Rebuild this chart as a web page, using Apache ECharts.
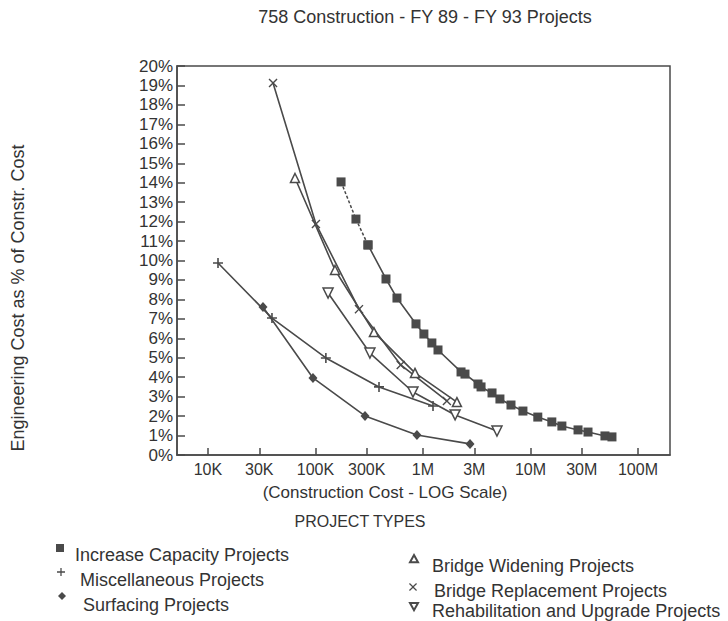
<!DOCTYPE html>
<html>
<head>
<meta charset="utf-8">
<script src="https://cdn.jsdelivr.net/npm/echarts@6/dist/echarts.min.js"></script>
<style>html,body{margin:0;padding:0;background:#fff}#c{width:728px;height:621px}</style>
</head>
<body>
<div id="c"></div>
<script>
// ---- Data (cost in $, engineering cost in %) ----
const xTickValues = [1e4, 3e4, 1e5, 3e5, 1e6, 3e6, 1e7, 3e7, 1e8];
const xTickLabels = ['10K', '30K', '100K', '300K', '1M', '3M', '10M', '30M', '100M'];

const capCost = [173e3, 238e3, 308e3, 453e3, 573e3, 861e3, 1.02e6, 1.21e6, 1.38e6, 2.26e6, 2.46e6, 3.25e6, 3.47e6, 4.39e6, 5.2e6, 6.59e6, 8.51e6, 11.7e6, 15.8e6, 19.6e6, 27.7e6, 34.3e6, 49.3e6, 57.3e6];
const capPct  = [14.04, 12.13, 10.80, 9.05, 8.07, 6.74, 6.22, 5.76, 5.40, 4.27, 4.16, 3.65, 3.50, 3.19, 2.88, 2.57, 2.26, 1.95, 1.70, 1.49, 1.29, 1.18, 0.98, 0.93];

const miscCost = [12.4e3, 39.4e3, 125e3, 390e3, 1.24e6];
const miscPct  = [9.87, 7.04, 4.99, 3.50, 2.52];

const surfCost = [32.5e3, 94.8e3, 289e3, 879e3, 2.74e6];
const surfPct  = [7.61, 3.96, 2.01, 1.03, 0.57];

const widCost = [64.5e3, 152e3, 350e3, 843e3, 2.07e6];
const widPct  = [14.24, 9.51, 6.32, 4.22, 2.72];

const repCost = [40.3e3, 101e3, 254e3, 621e3, 1.67e6];
const repPct  = [19.13, 11.88, 7.50, 4.63, 2.78];

const rehCost = [131e3, 321e3, 807e3, 1.99e6, 4.88e6];
const rehPct  = [8.33, 5.24, 3.24, 2.06, 1.23];

const names = ['Increase Capacity Projects', 'Miscellaneous Projects', 'Surfacing Projects',
               'Bridge Widening Projects', 'Bridge Replacement Projects', 'Rehabilitation and Upgrade Projects'];

// ---- Build ----
const L = v => Math.log10(v);
const pts = (xs, ys) => xs.map((x, i) => [L(x), ys[i]]);
const INK = '#4a4a4a';
const FONT = '"Liberation Sans", Arial, sans-serif';
const PLUS_P = 'M4.2,0h1.6v10h-1.6zM0,4.2h10v1.6h-10z';
const CROSS_P = 'M0,1.1L1.1,0L5,3.9L8.9,0L10,1.1L6.1,5L10,8.9L8.9,10L5,6.1L1.1,10L0,8.9L3.9,5Z';
const DOWN_P = 'M0,0L10,0L5,9Z';
const RECT_P = 'M0,0h10v10h-10z';
const DIAM_P = 'M5,0L10,5L5,10L0,5z';
const TRI_P = 'M5,0L10,9L0,9z';

const tickLog = xTickValues.map(L);
function labelFor(v) {
  let best = 0, d = 1e9;
  tickLog.forEach((t, i) => { if (Math.abs(t - v) < d) { d = Math.abs(t - v); best = i; } });
  return xTickLabels[best];
}

const base = {
  type: 'line', color: INK, lineStyle: { color: INK, width: 1.6 }, z: 3,
  emphasis: { disabled: true }, animation: false
};
const solid = { color: INK };
const hollow = { color: '#fff', borderColor: INK, borderWidth: 1.5 };

const capPts = pts(capCost, capPct);
const series = [
  Object.assign({}, base, { name: 'capDash', data: capPts.slice(0, 3), symbol: 'rect', symbolSize: 9,
    itemStyle: solid, lineStyle: { color: INK, width: 1.5, type: [3, 2] } }),
  Object.assign({}, base, { name: names[0], data: capPts.slice(2), symbol: 'rect', symbolSize: 9, itemStyle: solid }),
  Object.assign({}, base, { name: names[1], data: pts(miscCost, miscPct), symbol: 'path://' + PLUS_P, symbolSize: 10, itemStyle: solid }),
  Object.assign({}, base, { name: names[2], data: pts(surfCost, surfPct), symbol: 'diamond', symbolSize: [9, 10], itemStyle: solid }),
  Object.assign({}, base, { name: names[3], data: pts(widCost, widPct), symbol: 'triangle', symbolSize: 9, itemStyle: hollow }),
  Object.assign({}, base, { name: names[4], data: pts(repCost, repPct), symbol: 'path://' + CROSS_P, symbolSize: 9, itemStyle: solid }),
  Object.assign({}, base, { name: names[5], data: pts(rehCost, rehPct), symbol: 'path://' + DOWN_P, symbolSize: 10, itemStyle: hollow })
];

// legend icons: marker shape raised above the text line (as in the reference)
const iconShapes = [RECT_P, PLUS_P, DIAM_P, TRI_P, CROSS_P, DOWN_P];
const legendPos = [
  { left: 56, iconTop: 544, pad: 6, raise: 7 },
  { left: 57, iconTop: 568, pad: 10, raise: 8 },
  { left: 58, iconTop: 592, pad: 12, raise: 9 },
  { left: 409, iconTop: 554, pad: 9, raise: 7 },
  { left: 409, iconTop: 584, pad: 12, raise: 4 },
  { left: 409, iconTop: 604, pad: 9, raise: 4 }
];
const legends = names.map((n, i) => {
  const p = legendPos[i];
  const Y = 2 * (p.raise / 0.8 + 5);       // extent of the icon box in path units
  const h = 0.8 * Y;                       // marker drawn 8px tall
  const textTop = h / 2 - 10;
  return {
    data: [{ name: n, icon: 'path://' + iconShapes[i] + 'M5,' + Y.toFixed(2) }],
    left: p.left, top: p.iconTop + Math.min(0, textTop),
    itemWidth: 8, itemHeight: h, selectedMode: false,
    padding: 0,
    textStyle: { fontFamily: FONT, fontSize: 18, color: '#333', padding: [0, 0, 0, p.pad] }
  };
});

const option = {
  backgroundColor: '#ffffff',
  animation: false,
  grid: { left: 177, top: 66, right: 58, bottom: 166, show: true, borderColor: INK, borderWidth: 1.5, containLabel: false },
  xAxis: {
    type: 'value', min: 3.712, max: 8.298,
    splitLine: { show: false },
    axisLine: { lineStyle: { color: INK, width: 1.5 } },
    axisTick: { inside: true, length: 7, lineStyle: { color: INK, width: 1.5 }, customValues: tickLog },
    axisLabel: { customValues: tickLog, formatter: v => labelFor(v), fontFamily: FONT, fontSize: 16, color: '#333', margin: 6 }
  },
  yAxis: {
    type: 'value', min: 0, max: 20, interval: 1,
    splitLine: { show: false },
    axisLine: { lineStyle: { color: INK, width: 1.5 } },
    axisTick: { inside: true, length: 8, lineStyle: { color: INK, width: 1.5 } },
    axisLabel: { formatter: '{value}%', fontFamily: FONT, fontSize: 17, color: '#333', margin: 4 }
  },
  legend: legends,
  series: series,
  graphic: [
    { type: 'text', x: 425, y: 17, style: { text: '758 Construction - FY 89 - FY 93 Projects', font: '18px ' + FONT, fill: '#333', textAlign: 'center', textVerticalAlign: 'middle' } },
    { type: 'text', x: 385, y: 492, style: { text: '(Construction Cost - LOG Scale)', font: '17px ' + FONT, fill: '#333', textAlign: 'center', textVerticalAlign: 'middle' } },
    { type: 'text', x: 360, y: 521, style: { text: 'PROJECT TYPES', font: '16px ' + FONT, fill: '#333', textAlign: 'center', textVerticalAlign: 'middle' } },
    { type: 'text', x: 18, y: 298, rotation: Math.PI / 2, style: { text: 'Engineering Cost as % of Constr. Cost', font: '18px ' + FONT, fill: '#333', textAlign: 'center', textVerticalAlign: 'middle' } }
  ]
};

const chart = echarts.init(document.getElementById('c'), null, { renderer: 'svg', width: 728, height: 621 });
chart.setOption(option);
</script>
</body>
</html>
